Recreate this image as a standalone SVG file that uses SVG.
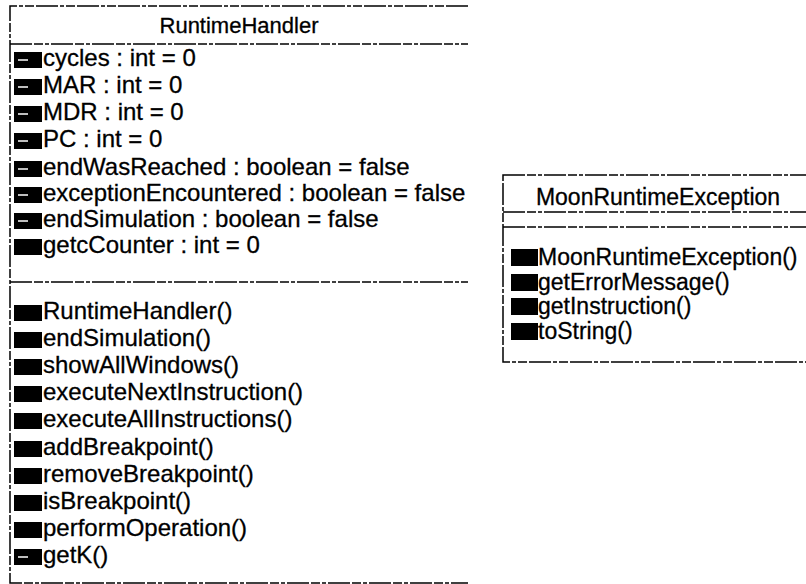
<svg xmlns="http://www.w3.org/2000/svg" width="806" height="584" viewBox="0 0 806 584">
<style>
.box{fill:none;stroke:#000;stroke-width:1.5;stroke-dasharray:22 2 9 2 4 2}
.t{font-family:"Liberation Sans",Arial,sans-serif;font-size:24px;fill:#000;stroke:#000;stroke-width:0.3}
.t2{font-family:"Liberation Sans",Arial,sans-serif;font-size:23px;fill:#000;stroke:#000;stroke-width:0.3}
.title{font-family:"Liberation Sans",Arial,sans-serif;font-size:22px;fill:#000;text-anchor:middle;stroke:#000;stroke-width:0.3}
.ic{fill:#000}
.mk{stroke:#fff;stroke-width:1.5}
</style>
<rect width="806" height="584" fill="#fff"/>
<g id="RuntimeHandler">
<path class="box" d="M468 6 H10 V583 H468"/>
<line class="box" x1="10" y1="44" x2="468" y2="44"/>
<line class="box" x1="10" y1="282" x2="468" y2="282"/>
<text class="title" x="239" y="33">RuntimeHandler</text>
<g>
<rect class="ic" x="14" y="52" width="28" height="16"/><line class="mk" x1="18" y1="60" x2="28" y2="60"/>
<text class="t" x="43" y="66">cycles : int = 0</text>
<rect class="ic" x="14" y="79" width="28" height="16"/><line class="mk" x1="18" y1="87" x2="28" y2="87"/>
<text class="t" x="43" y="93">MAR : int = 0</text>
<rect class="ic" x="14" y="106" width="28" height="16"/><line class="mk" x1="18" y1="114" x2="28" y2="114"/>
<text class="t" x="43" y="120">MDR : int = 0</text>
<rect class="ic" x="14" y="133" width="28" height="16"/><line class="mk" x1="18" y1="141" x2="28" y2="141"/>
<text class="t" x="43" y="147">PC : int = 0</text>
<rect class="ic" x="14" y="161" width="28" height="16"/><line class="mk" x1="18" y1="169" x2="28" y2="169"/>
<text class="t" x="43" y="175">endWasReached : boolean = false</text>
<rect class="ic" x="14" y="187" width="28" height="16"/><line class="mk" x1="18" y1="195" x2="28" y2="195"/>
<text class="t" x="43" y="201">exceptionEncountered : boolean = false</text>
<rect class="ic" x="14" y="213" width="28" height="16"/><line class="mk" x1="18" y1="221" x2="28" y2="221"/>
<text class="t" x="43" y="227">endSimulation : boolean = false</text>
<rect class="ic" x="14" y="239" width="28" height="16"/>
<text class="t" x="43" y="253">getcCounter : int = 0</text>
</g>
<g>
<rect class="ic" x="14" y="305" width="28" height="16"/>
<text class="t" x="43" y="319">RuntimeHandler()</text>
<rect class="ic" x="14" y="332" width="28" height="16"/>
<text class="t" x="43" y="346">endSimulation()</text>
<rect class="ic" x="14" y="359" width="28" height="16"/>
<text class="t" x="43" y="373">showAllWindows()</text>
<rect class="ic" x="14" y="386" width="28" height="16"/>
<text class="t" x="43" y="400">executeNextInstruction()</text>
<rect class="ic" x="14" y="413" width="28" height="16"/>
<text class="t" x="43" y="427">executeAllInstructions()</text>
<rect class="ic" x="14" y="441" width="28" height="16"/>
<text class="t" x="43" y="455">addBreakpoint()</text>
<rect class="ic" x="14" y="468" width="28" height="16"/>
<text class="t" x="43" y="482">removeBreakpoint()</text>
<rect class="ic" x="14" y="495" width="28" height="16"/>
<text class="t" x="43" y="509">isBreakpoint()</text>
<rect class="ic" x="14" y="522" width="28" height="16"/>
<text class="t" x="43" y="536">performOperation()</text>
<rect class="ic" x="14" y="549" width="28" height="16"/><line class="mk" x1="18" y1="557" x2="28" y2="557"/>
<text class="t" x="43" y="563">getK()</text>
</g>
</g>
<g id="MoonRuntimeException">
<rect class="box" x="503" y="175" width="320" height="187"/>
<line class="box" x1="503" y1="212" x2="823" y2="212"/>
<line class="box" x1="503" y1="227" x2="823" y2="227"/>
<text class="title" x="658" y="205" style="font-size:23px">MoonRuntimeException</text>
<rect class="ic" x="511" y="249" width="27" height="17"/>
<text class="t2" x="538" y="265">MoonRuntimeException()</text>
<rect class="ic" x="511" y="274" width="27" height="17"/>
<text class="t2" x="538" y="290">getErrorMessage()</text>
<rect class="ic" x="511" y="298" width="27" height="17"/>
<text class="t2" x="538" y="314">getInstruction()</text>
<rect class="ic" x="511" y="323" width="27" height="17"/>
<text class="t2" x="538" y="339">toString()</text>
</g>
<g id="connectors"></g>
</svg>
